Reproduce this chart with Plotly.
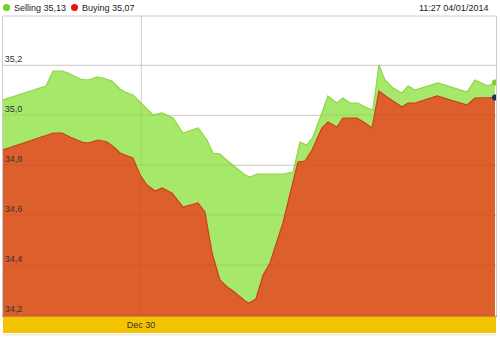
import plotly.graph_objects as go

# time in hours relative to Dec 30 00:00
sell_t = [-46, -31.7, -29.3, -26.3, -24.3, -20.3, -17.7, -14.7, -12.7, -9.7, -7, -5.3, -2.7, -0.3,
          4, 7, 10.7, 14, 19, 22, 24, 26.3, 29.7, 34.7, 36.3, 38.7, 47.3, 50.7, 53, 55.3, 57.3,
          60.3, 62.3, 65.3, 67.3, 69.7, 72.3, 74.7, 77.3, 79.3, 81.3, 84, 87, 89, 91.3, 99,
          108.7, 111.3, 115.7, 118]
sell_v = [35.06, 35.116, 35.176, 35.176, 35.168, 35.144, 35.14, 35.152, 35.148, 35.136, 35.104,
          35.092, 35.08, 35.052, 35.0, 35.008, 34.988, 34.928, 34.948, 34.9, 34.848, 34.844,
          34.808, 34.76, 34.752, 34.764, 34.764, 34.772, 34.892, 34.88, 34.912, 35.008, 35.076,
          35.048, 35.068, 35.048, 35.048, 35.032, 35.02, 35.2, 35.14, 35.108, 35.088, 35.116,
          35.1, 35.128, 35.092, 35.14, 35.116, 35.13]

buy_t = [-46, -29.3, -26.3, -23.7, -19.7, -17.7, -14.3, -11.3, -8.7, -7, -5.3, -2.7, -0.3, 2,
         4.7, 7, 10.3, 14, 19, 21.3, 23.7, 26.3, 28.7, 30.7, 34.7, 36, 38.3, 40.7, 43, 47.3,
         52.3, 54.7, 57, 60.3, 62.3, 65.3, 67.3, 72, 74.7, 77, 79.3, 82, 87, 89, 91.3, 98.7,
         108.7, 111.3, 118]
buy_v = [34.86, 34.928, 34.928, 34.912, 34.892, 34.888, 34.9, 34.892, 34.868, 34.848, 34.84,
         34.828, 34.76, 34.72, 34.696, 34.708, 34.688, 34.632, 34.648, 34.612, 34.448, 34.34,
         34.312, 34.296, 34.256, 34.248, 34.264, 34.36, 34.408, 34.568, 34.812, 34.816, 34.86,
         34.948, 34.972, 34.952, 34.988, 34.988, 34.968, 34.948, 35.096, 35.072, 35.032, 35.048,
         35.048, 35.076, 35.04, 35.068, 35.07]

y_ticks = [34.2, 34.4, 34.6, 34.8, 35.0, 35.2]
x_tick_vals = [0]
x_tick_text = ["Dec 30"]
timestamp = "11:27 04/01/2014"

def fmt(v):
    return f"{v:.2f}".replace(".", ",")

FONT = "Arial, 'Liberation Sans', sans-serif"

fig = go.Figure()
fig.add_trace(go.Scatter(x=sell_t, y=sell_v, mode="lines", fill="tozeroy",
                         line=dict(color="#8fd646", width=1.2), fillcolor="#a6e86a",
                         showlegend=False, hoverinfo="skip"))
fig.add_trace(go.Scatter(x=buy_t, y=buy_v, mode="lines", fill="tozeroy",
                         line=dict(color="#c9421b", width=1.2), fillcolor="#dd5f2b",
                         showlegend=False, hoverinfo="skip"))
fig.add_trace(go.Scatter(x=[sell_t[-1]], y=[sell_v[-1]], mode="markers",
                         marker=dict(color="#7ccf2c", size=6), showlegend=False))
fig.add_trace(go.Scatter(x=[buy_t[-1]], y=[buy_v[-1]], mode="markers",
                         marker=dict(color="#1b2a6b", size=6), showlegend=False))

# bottom time band
fig.add_shape(type="rect", xref="paper", yref="paper", x0=0, x1=1, y0=-0.057, y1=-0.003,
              fillcolor="#f5c400", line=dict(width=0), layer="below")
fig.add_shape(type="line", xref="paper", yref="paper", x0=0, x1=1, y0=-0.063, y1=-0.063,
              line=dict(color="#e4e4e4", width=1))
# top frame line
fig.add_shape(type="line", xref="paper", yref="paper", x0=0, x1=1, y0=1, y1=1,
              line=dict(color="#cccccc", width=1))
# grid lines visible over fills
for v in y_ticks:
    fig.add_shape(type="line", xref="paper", yref="y", x0=0, x1=1, y0=v, y1=v,
                  line=dict(color="rgba(120,60,20,0.12)", width=1), layer="above")
fig.add_shape(type="line", xref="x", yref="paper", x0=0, x1=0, y0=0, y1=1,
              line=dict(color="rgba(120,60,20,0.08)", width=1), layer="above")

# legend-like header
fig.add_shape(type="circle", xref="paper", yref="paper", xsizemode="pixel", ysizemode="pixel",
              xanchor=0.0, yanchor=1.0, x0=0, x1=7, y0=5, y1=12,
              fillcolor="#6cd41c", line=dict(width=0))
fig.add_shape(type="circle", xref="paper", yref="paper", xsizemode="pixel", ysizemode="pixel",
              xanchor=0.0, yanchor=1.0, x0=68, x1=75, y0=5, y1=12,
              fillcolor="#ee1111", line=dict(width=0))
fig.add_annotation(xref="paper", yref="paper", x=0, y=1, xshift=9, yshift=8,
                   xanchor="left", yanchor="middle", showarrow=False,
                   text=f"Selling {fmt(sell_v[-1])}", font=dict(family=FONT, size=9, color="#222"))
fig.add_annotation(xref="paper", yref="paper", x=0, y=1, xshift=77, yshift=8,
                   xanchor="left", yanchor="middle", showarrow=False,
                   text=f"Buying {fmt(buy_v[-1])}", font=dict(family=FONT, size=9, color="#222"))
fig.add_annotation(xref="paper", yref="paper", x=1, y=1, xshift=-6, yshift=8,
                   xanchor="right", yanchor="middle", showarrow=False,
                   text=timestamp, font=dict(family=FONT, size=9, color="#222"))

fig.update_layout(
    width=500, height=338,
    margin=dict(l=3, r=4, t=16, b=22),
    paper_bgcolor="white", plot_bgcolor="white",
    separators=",.",
    showlegend=False,
    font=dict(family=FONT, size=9, color="#333"),
    xaxis=dict(range=[-46, 118.33], tickvals=x_tick_vals, ticktext=x_tick_text,
               showgrid=True, gridcolor="#dddddd", zeroline=False, ticks="",
               showline=True, linecolor="#c8834e", linewidth=1,
               tickfont=dict(size=9, color="#333"), ticklabelstandoff=0),
    yaxis=dict(range=[34.196, 35.396], tickvals=y_ticks, tickformat=".1f",
               ticklabelposition="inside top", showgrid=True, gridcolor="#dddddd",
               zeroline=False, ticks="", showline=True, mirror=True, linecolor="#cccccc",
               tickfont=dict(size=9, color="#333")),
)

fig.write_html("out.html")
